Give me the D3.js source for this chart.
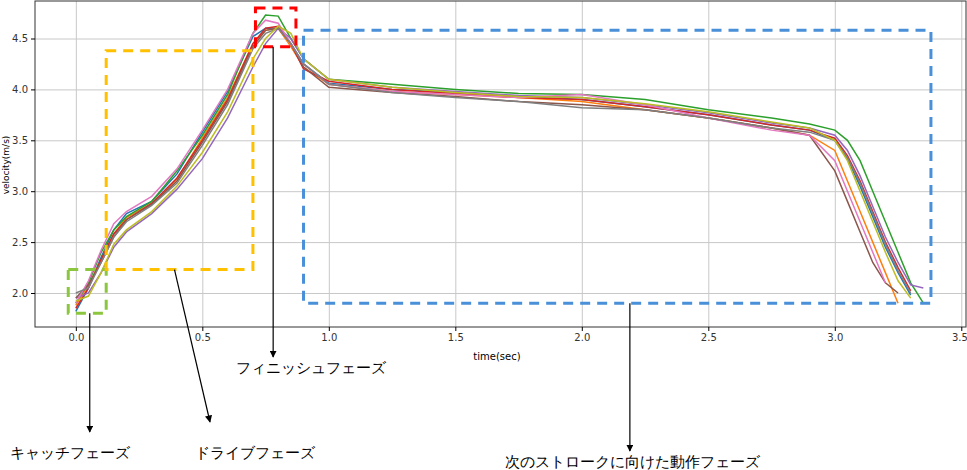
<!DOCTYPE html>
<html><head><meta charset="utf-8">
<script src="https://cdn.jsdelivr.net/npm/d3@7"></script>
<style>
body{margin:0;background:#fff;}
text{font-family:"DejaVu Sans",sans-serif;}
.grid line{stroke:#c8c8c8;}
.grid path{display:none;}
</style></head>
<body><div id="container"></div>
<script>
const times = [0,0.05,0.1,0.15,0.2,0.3,0.4,0.5,0.6,0.7,0.75,0.8,0.85,0.9,1.0,1.25,1.5,1.75,2.0,2.25,2.5,2.75,2.9,3.0,3.05,3.1,3.15,3.2,3.25,3.3,3.35];
const colors = ["#1f77b4","#ff7f0e","#2ca02c","#d62728","#9467bd","#8c564b","#e377c2","#7f7f7f","#bcbd22"];
const seriesBlue   = [1.82,2.05,2.35,2.62,2.78,2.9,3.17,3.58,3.98,4.52,4.6,4.6,4.45,4.25,4.06,4.0,3.97,3.93,3.9,3.83,3.75,3.65,3.6,3.5,3.32,3.05,2.75,2.45,2.2,1.98,null];
const seriesOrange = [1.88,2.08,2.32,2.58,2.74,2.88,3.12,3.52,3.92,4.45,4.58,4.6,4.42,4.22,4.05,3.98,3.95,3.92,3.88,3.8,3.72,3.62,3.55,3.4,3.1,2.8,2.5,2.2,1.9,null,null];
const seriesGreen  = [1.9,2.1,2.4,2.62,2.75,2.9,3.2,3.55,3.95,4.55,4.73,4.72,4.5,4.3,4.1,4.05,4.0,3.96,3.95,3.9,3.8,3.72,3.66,3.6,3.5,3.3,3.0,2.7,2.4,2.1,1.9];
const seriesRed    = [1.85,2.05,2.33,2.58,2.72,2.88,3.13,3.5,3.9,4.45,4.6,4.62,4.45,4.2,4.08,4.0,3.96,3.92,3.9,3.83,3.75,3.65,3.6,3.52,3.35,3.1,2.8,2.5,2.25,2.02,null];
const seriesPurple = [1.95,2.0,2.2,2.45,2.6,2.78,3.02,3.32,3.72,4.22,4.45,4.6,4.5,4.3,4.1,4.02,3.98,3.94,3.92,3.85,3.77,3.67,3.62,3.55,3.4,3.15,2.85,2.55,2.3,2.08,2.05];
const seriesBrown  = [1.95,2.08,2.3,2.55,2.72,2.87,3.1,3.48,3.88,4.42,4.58,4.6,4.45,4.22,4.02,3.97,3.93,3.88,3.85,3.8,3.72,3.62,3.55,3.2,2.9,2.6,2.3,2.1,2.0,null,null];
const seriesPink   = [1.9,2.12,2.42,2.68,2.8,2.95,3.22,3.6,4.0,4.55,4.68,4.65,4.45,4.25,4.05,3.98,3.95,3.92,3.95,3.85,3.72,3.6,3.55,3.3,3.0,2.7,2.4,2.1,null,null,null];
const seriesGray   = [2.0,2.05,2.3,2.55,2.7,2.86,3.08,3.45,3.85,4.4,4.55,4.6,4.45,4.25,4.05,3.97,3.92,3.88,3.82,3.8,3.72,3.62,3.58,3.5,3.33,3.08,2.78,2.48,2.22,2.0,null];
const seriesOlive  = [1.92,1.97,2.2,2.48,2.62,2.8,3.05,3.38,3.78,4.3,4.5,4.62,4.55,4.3,4.1,4.02,3.97,3.93,3.92,3.86,3.78,3.68,3.62,3.5,3.3,3.0,2.7,2.4,2.12,1.95,null];
const allSeries = [seriesBlue,seriesOrange,seriesGreen,seriesRed,seriesPurple,seriesBrown,seriesPink,seriesGray,seriesOlive];
const xTicks = [0,0.5,1,1.5,2,2.5,3,3.5];
const yTicks = [2.0,2.5,3.0,3.5,4.0,4.5];
// annotation boxes in data units: [x0,x1,y0,y1,colour]
const boxes = [
  [-0.03,0.12,1.8,2.23,"#8cc63f"],
  [0.12,0.7,2.23,4.38,"#ffc000"],
  [0.71,0.87,4.42,4.8,"#ff0000"],
  [0.9,3.38,1.9,4.58,"#4a90d9"]
];
const labels = [
  ["キャッチフェーズ",10,458],
  ["ドライブフェーズ",195,458],
  ["フィニッシュフェーズ",236,373],
  ["次のストロークに向けた動作フェーズ",505,467]
];

const W = 967, H = 470;
const m = {left:35, top:1, right:966, bottom:327};
const svg = d3.select("#container").append("svg").attr("width",W).attr("height",H);
const x = d3.scaleLinear().domain([-0.1614,3.5186]).range([m.left,m.right]);
const y = d3.scaleLinear().domain([2.0-(m.bottom-293)/101.8, 4.5+(38.5-m.top)/101.8]).range([m.bottom,m.top]);

svg.append("g").attr("class","grid").attr("transform",`translate(0,${m.bottom})`)
  .call(d3.axisBottom(x).tickValues(xTicks).tickSize(-(m.bottom-m.top)).tickFormat(""));
svg.append("g").attr("class","grid").attr("transform",`translate(${m.left},0)`)
  .call(d3.axisLeft(y).tickValues(yTicks).tickSize(-(m.right-m.left)).tickFormat(""));

const line = d3.line().defined(d=>d[1]!=null).x(d=>x(d[0])).y(d=>y(d[1]));
allSeries.forEach((s,i)=>{
  svg.append("path").datum(times.map((t,j)=>[t,s[j]]))
    .attr("fill","none").attr("stroke",colors[i]).attr("stroke-width",1.5).attr("d",line);
});

svg.append("rect").attr("x",m.left).attr("y",m.top).attr("width",m.right-m.left).attr("height",m.bottom-m.top)
  .attr("fill","none").attr("stroke","#333").attr("stroke-width",1);

const xa = svg.append("g").attr("transform",`translate(0,${m.bottom})`)
  .call(d3.axisBottom(x).tickValues(xTicks).tickSize(4).tickFormat(d3.format(".1f")));
const ya = svg.append("g").attr("transform",`translate(${m.left},0)`)
  .call(d3.axisLeft(y).tickValues(yTicks).tickSize(4).tickFormat(d3.format(".1f")));
[xa,ya].forEach(a=>{a.select(".domain").remove();a.selectAll("text").attr("font-size",10).attr("fill","#333");});
xa.selectAll("text").filter(d=>d===3.5).attr("text-anchor","end").attr("dx",6);

svg.append("text").attr("x",497).attr("y",360).attr("text-anchor","middle").attr("font-size",10).text("time(sec)");
svg.append("text").attr("transform","translate(9,165) rotate(-90)").attr("text-anchor","middle").attr("font-size",9).text("velocity(m/s)");

boxes.forEach(b=>{
  svg.append("rect").attr("x",x(b[0])).attr("y",y(b[3])).attr("width",x(b[1])-x(b[0])).attr("height",y(b[2])-y(b[3]))
    .attr("fill","none").attr("stroke",b[4]).attr("stroke-width",3).attr("stroke-dasharray","10,7");
});

svg.append("defs").append("marker").attr("id","ah").attr("viewBox","0 0 10 10").attr("refX",9).attr("refY",5)
  .attr("markerWidth",6).attr("markerHeight",6).attr("orient","auto")
  .append("path").attr("d","M0,0L10,5L0,10z").attr("fill","#000");
const arrows = [
  [x(0.055),y(1.8),x(0.055),432],
  [x(0.39),y(2.23),210,422],
  [x(0.78),y(4.42),x(0.78),357],
  [x(2.19),y(1.9),x(2.19),451]
];
arrows.forEach(a=>svg.append("line").attr("x1",a[0]).attr("y1",a[1]).attr("x2",a[2]).attr("y2",a[3])
  .attr("stroke","#000").attr("stroke-width",1.2).attr("marker-end","url(#ah)"));

labels.forEach(l=>svg.append("text").attr("x",l[1]).attr("y",l[2]).attr("font-size",15)
  .attr("font-family","'Noto Sans CJK JP',sans-serif").text(l[0]));
</script></body></html>
